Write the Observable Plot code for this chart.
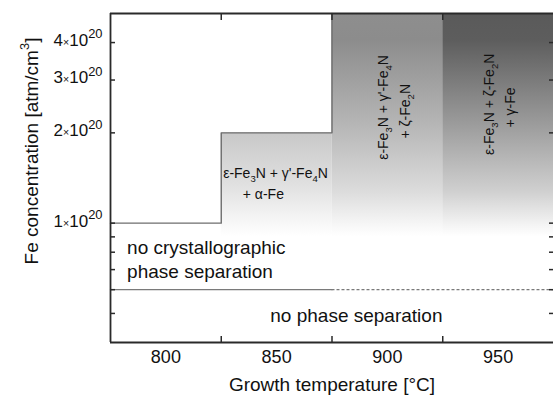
<!DOCTYPE html>
<html><head><meta charset="utf-8">
<script src="https://cdn.jsdelivr.net/npm/d3@7"></script>
<script src="https://cdn.jsdelivr.net/npm/@observablehq/plot@0.6"></script>
<style>
body{margin:0;background:#fff;}
svg{font-family:"Liberation Sans",Arial,sans-serif;}
</style>
</head><body><div id="chart"></div>
<script>
// ---- data ----
const tempDomain = [775, 975];
const concDomain = [4e19, 5e20];
const tempTicks = [825, 875, 925];
const tempLabels = [800, 850, 900, 950];
const concMajor = [1e20, 2e20, 3e20, 4e20];
const concMinor = [5e19, 6e19, 7e19, 8e19, 9e19];

// shaded phase regions
const regionT1 = [825, 875, 925];
const regionT2 = [875, 925, 975];
const regionClow = [9e19, 9e19, 9e19];
const regionChigh = [2e20, 5e20, 5e20];

// step boundary of the single-phase (white) area
const boundaryT = [775, 825, 825, 875, 875];
const boundaryC = [1e20, 1e20, 2e20, 2e20, 5e20];

// crystallographic / phase separation boundary
const sepC = 6e19;
const sepSolidT = [775, 875];
const sepDottedT = [875, 975];

// annotations
const noteText = ["no crystallographic", "phase separation", "no phase separation"];
const noteT = [782.5, 782.5, 886];
const noteC = [8.25e19, 6.9e19, 4.92e19];

const phaseText = ["ε-Fe_3N + γ'-Fe_4N", "+ α-Fe",
                   "ε-Fe_3N + γ'-Fe_4N", "+ ζ-Fe_2N",
                   "ε-Fe_3N + ζ-Fe_2N", "+ γ-Fe"];
const phaseT = [849.5, 844, 898.3, 908.2, 946.1, 955.6];
const phaseC = [1.465e20, 1.246e20, 2.43e20, 2.36e20, 2.49e20, 2.43e20];

const xTitle = "Growth temperature [°C]";
const yTitle = "Fe concentration [atm/cm^3]";

// ---- derived tables ----
const regions = regionT1.map((t1, i) => ({t1, t2: regionT2[i], c1: regionClow[i], c2: regionChigh[i]}));
const boundary = boundaryT.map((t, i) => ({t, c: boundaryC[i]}));
const sepSolid = sepSolidT.map(t => ({t, c: sepC}));
const sepDotted = sepDottedT.map(t => ({t, c: sepC}));
const notes = noteText.map((text, i) => ({text, t: noteT[i], c: noteC[i]}));
const phases = phaseText.map((text, i) => ({text, t: phaseT[i], c: phaseC[i]}));
const blank = () => "";

const chart = Plot.plot({
  width: 553, height: 401,
  marginLeft: 110, marginRight: 0, marginTop: 13, marginBottom: 59,
  style: {fontFamily: '"Liberation Sans", Arial, sans-serif', color: "#222", background: "#fff", overflow: "visible"},
  x: {domain: tempDomain},
  y: {type: "log", domain: concDomain},
  marks: [
    ...regions.map((r, i) => Plot.rect([r], {x1: "t1", x2: "t2", y1: "c1", y2: "c2", fill: `url(#grad${i})`})),
    Plot.line(boundary, {x: "t", y: "c", stroke: "#6e6e6e", strokeWidth: 1.4}),
    Plot.line(sepSolid, {x: "t", y: "c", stroke: "#7a7a7a", strokeWidth: 1.3}),
    Plot.line(sepDotted, {x: "t", y: "c", stroke: "#7a7a7a", strokeWidth: 1.3, strokeDasharray: "2,3"}),
    // frame
    Plot.ruleX([tempDomain[0]], {stroke: "#2a2a2a", strokeWidth: 1.8}),
    Plot.ruleY([concDomain[1]], {stroke: "#2a2a2a", strokeWidth: 1.8}),
    Plot.ruleY([concDomain[0]], {stroke: "#2a2a2a", strokeWidth: 1.8}),
    // axes
    Plot.axisX(tempTicks, {anchor: "bottom", tickSize: -6, tickFormat: blank, stroke: "#2a2a2a", strokeWidth: 1.5}),
    Plot.axisX(tempTicks, {anchor: "top", tickSize: -6, tickFormat: blank, stroke: "#2a2a2a", strokeWidth: 1.5}),
    Plot.axisX(tempLabels, {anchor: "bottom", tickSize: 0, tickPadding: 8, fontSize: 18, fill: "#111"}),
    Plot.axisY(concMajor.concat(concMinor), {anchor: "left", tickSize: -5, tickFormat: blank, stroke: "#2a2a2a", strokeWidth: 1.5}),
    Plot.axisY(concMajor.concat(concMinor), {anchor: "right", tickSize: -5, tickFormat: blank, stroke: "#2a2a2a", strokeWidth: 1.5}),
    Plot.axisY(concMajor, {anchor: "left", tickSize: 0, tickPadding: 8, dy: -2, fontSize: 17, fill: "#111",
      tickFormat: d => `${Math.round(d / 1e20)}×10^20`}),
    // titles
    Plot.text([xTitle], {frameAnchor: "bottom", dy: 48, fontSize: 19, fill: "#111"}),
    Plot.text([yTitle], {frameAnchor: "left", textAnchor: "middle", dx: -79, dy: -27, rotate: -90, fontSize: 19, fill: "#111"}),
    // annotations
    Plot.text(notes.slice(0, 2), {x: "t", y: "c", text: "text", textAnchor: "start", fontSize: 19, fill: "#111"}),
    Plot.text(notes.slice(2), {x: "t", y: "c", text: "text", fontSize: 19, fill: "#111"}),
    Plot.text(phases.slice(0, 2), {x: "t", y: "c", text: "text", fontSize: 14, fill: "#111"}),
    Plot.text(phases.slice(2), {x: "t", y: "c", text: "text", rotate: -90, fontSize: 14, fill: "#111"})
  ]
});

document.getElementById("chart").appendChild(chart);

// gradients for the shaded regions
const ns = "http://www.w3.org/2000/svg";
const defs = document.createElementNS(ns, "defs");
const gradStops = [
  [[0, "#c8c8c8"], [0.5, "#e0e0e0"], [0.85, "#f6f6f6"], [1, "#ffffff"]],
  [[0, "#8e8e8e"], [0.12, "#8c8c8c"], [0.5, "#b6b6b6"], [0.8, "#dcdcdc"], [0.95, "#f7f7f7"], [1, "#ffffff"]],
  [[0, "#5a5a5a"], [0.12, "#5d5d5d"], [0.5, "#9c9c9c"], [0.8, "#d0d0d0"], [0.95, "#f4f4f4"], [1, "#ffffff"]]
];
gradStops.forEach((stops, i) => {
  const g = document.createElementNS(ns, "linearGradient");
  g.setAttribute("id", `grad${i}`);
  g.setAttribute("x1", 0); g.setAttribute("y1", 0); g.setAttribute("x2", 0); g.setAttribute("y2", 1);
  stops.forEach(([o, c]) => {
    const s = document.createElementNS(ns, "stop");
    s.setAttribute("offset", o); s.setAttribute("stop-color", c);
    g.appendChild(s);
  });
  defs.appendChild(g);
});
chart.insertBefore(defs, chart.firstChild);

// rich text: _n subscripts, ^n superscripts, small ×
chart.querySelectorAll("text").forEach(el => {
  const s = el.textContent;
  if (!/[_^×]/.test(s)) return;
  const fs = parseFloat(getComputedStyle(el).fontSize) || 14;
  el.textContent = "";
  let cur = 0, last = 0, m;
  const add = (str, size, off) => {
    const t = document.createElementNS(ns, "tspan");
    t.textContent = str;
    if (size) t.setAttribute("font-size", size);
    const d = off - cur;
    if (d) t.setAttribute("dy", d);
    cur = off;
    el.appendChild(t);
  };
  const re = /([_^])(\d+)|(×)/g;
  while ((m = re.exec(s))) {
    if (m.index > last) add(s.slice(last, m.index), null, 0);
    if (m[3]) add("×", fs * 0.62, 0);
    else if (m[1] === "^" && m[2].length > 1) add(m[2], fs * 0.76, -fs * 0.45);
    else add(m[2], fs * 0.68, m[1] === "_" ? fs * 0.3 : -fs * 0.45);
    last = re.lastIndex;
  }
  if (last < s.length) add(s.slice(last), null, 0);
});
</script>
</body></html>
